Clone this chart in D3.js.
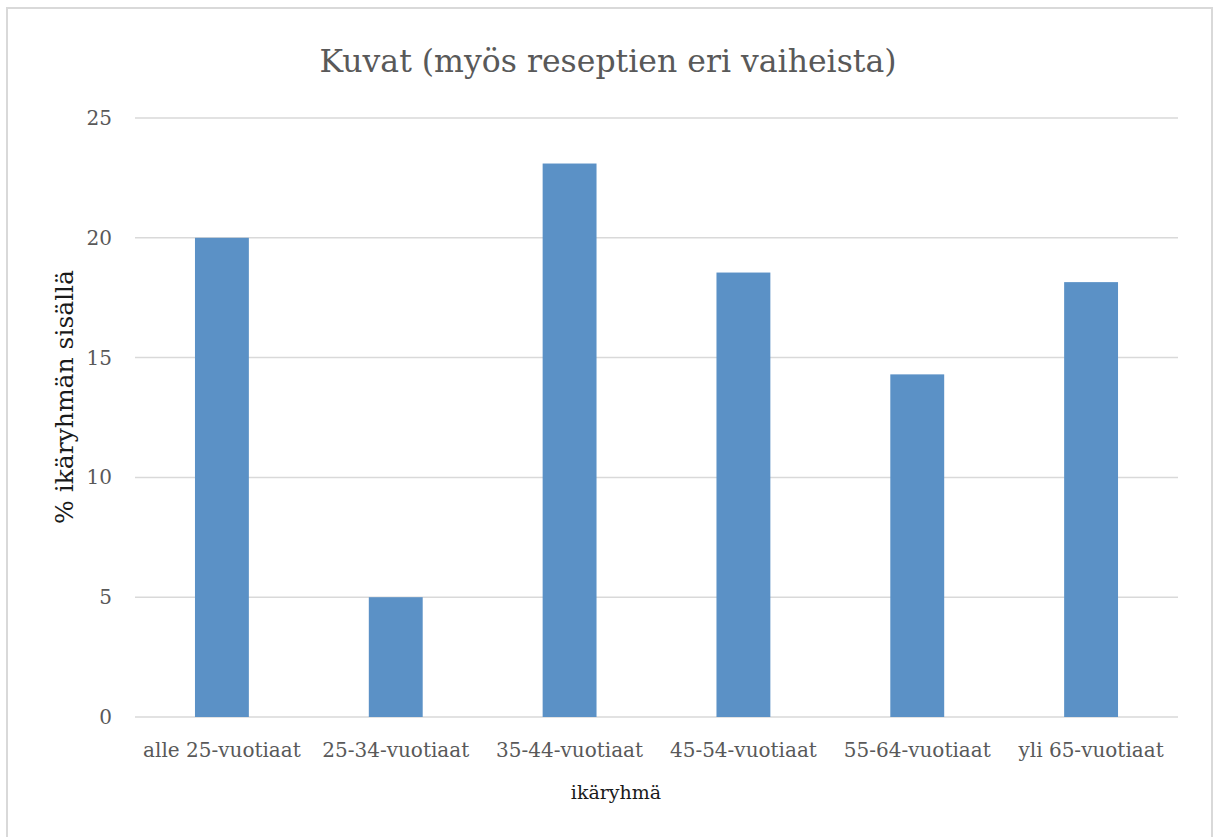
<!DOCTYPE html>
<html>
<head>
<meta charset="utf-8">
<script src="https://cdn.jsdelivr.net/npm/d3@7"></script>
<style>
  body { margin: 0; background: #fff; }
  text { font-family: "DejaVu Serif", serif; }
</style>
</head>
<body>
<svg id="chart" width="1221" height="837"></svg>
<script>
var categories = ["alle 25-vuotiaat", "25-34-vuotiaat", "35-44-vuotiaat", "45-54-vuotiaat", "55-64-vuotiaat", "yli 65-vuotiaat"];
var values = [20, 5, 23.1, 18.55, 14.3, 18.15];
var yTicks = [0, 5, 10, 15, 20, 25];

var svg = d3.select("#chart");

// frame
svg.append("rect")
  .attr("x", 7).attr("y", 8)
  .attr("width", 1205).attr("height", 840)
  .attr("fill", "none")
  .attr("stroke", "#d9d9d9")
  .attr("stroke-width", 2);

var x = d3.scaleBand().domain(categories).range([135, 1178]).paddingInner(0.69).paddingOuter(0.345);
var y = d3.scaleLinear().domain([0, 25]).range([717, 118]);

// gridlines
svg.append("g").selectAll("line")
  .data(yTicks)
  .enter().append("line")
  .attr("x1", 135).attr("x2", 1178)
  .attr("y1", d => y(d)).attr("y2", d => y(d))
  .attr("stroke", "#d9d9d9")
  .attr("stroke-width", 1.5);

svg.append("g").selectAll("rect")
  .data(values)
  .enter().append("rect")
  .attr("x", (d, i) => x(categories[i]))
  .attr("width", x.bandwidth())
  .attr("y", d => y(d))
  .attr("height", d => y(0) - y(d))
  .attr("fill", "#5b91c6");

// y tick labels
svg.append("g").selectAll("text")
  .data(yTicks)
  .enter().append("text")
  .attr("x", 112)
  .attr("y", d => y(d) + 7)
  .attr("text-anchor", "end")
  .attr("fill", "#595959")
  .attr("font-size", 20)
  .text(d => d);

// x labels
svg.append("g").selectAll("text")
  .data(categories)
  .enter().append("text")
  .attr("x", d => x(d) + x.bandwidth() / 2)
  .attr("y", 757)
  .attr("text-anchor", "middle")
  .attr("fill", "#595959")
  .attr("font-size", 20)
  .text(d => d);

svg.append("text")
  .attr("x", 608).attr("y", 72)
  .attr("text-anchor", "middle")
  .attr("fill", "#595959")
  .attr("font-size", 31.5)
  .text("Kuvat (myös reseptien eri vaiheista)");

svg.append("text")
  .attr("x", 616).attr("y", 799)
  .attr("text-anchor", "middle")
  .attr("fill", "#1a1a1a")
  .attr("font-size", 19)
  .text("ikäryhmä");

svg.append("text")
  .attr("transform", "translate(73,397) rotate(-90)")
  .attr("text-anchor", "middle")
  .attr("fill", "#1a1a1a")
  .attr("font-size", 25)
  .text("% ikäryhmän sisällä");
</script>
</body>
</html>
